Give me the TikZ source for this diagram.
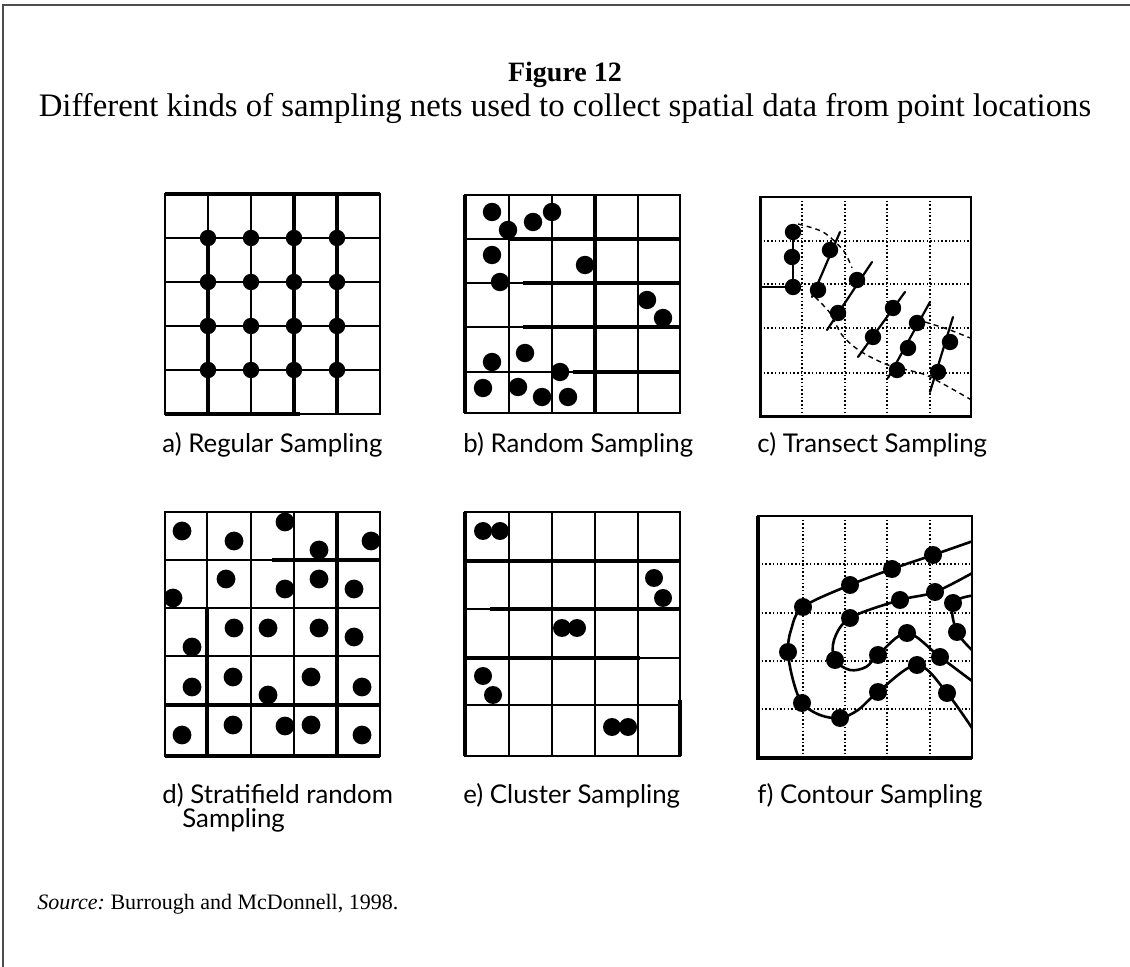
\documentclass[tikz,border=0pt]{standalone}
\usepackage{fontspec}
\setmainfont{Liberation Serif}
\newfontfamily\labfont{Lato}
\begin{document}
\begin{tikzpicture}[x=0.5pt,y=-0.5pt,
  gline/.style={line width=0.8pt},
  tline/.style={line width=1.6pt},
  dgrid/.style={line width=0.75pt, dash pattern=on 0.75pt off 1.1pt},
  lab/.style={font=\labfont\fontsize{12.9}{14}\selectfont, anchor=base west, inner sep=0pt},
  cline/.style={line width=1.1pt, line join=round, line cap=round},
  tcurve/.style={line width=0.7pt, dash pattern=on 2.5pt off 2pt},
]
\useasboundingbox (0,0) rectangle (1130,967);
\draw[line width=1.3pt, black!70] (3,967) -- (3,5) -- (1130,5);

% titles
\node[font=\bfseries\fontsize{14}{16}\selectfont, anchor=base, inner sep=0pt] (title) at (565,82) {Figure 12};
\node[font=\fontsize{16.4}{19}\selectfont, anchor=base, inner sep=0pt] (subtitle) at (565,117) {Different kinds of sampling nets used to collect spatial data from point locations};

% ---------- a) regular
\draw[gline] (165,194) rectangle (380,414);
\foreach \x in {208,251,294,337} \draw[gline] (\x,194) -- (\x,414);
\foreach \y in {238,282,326,370} \draw[gline] (165,\y) -- (380,\y);
\draw[tline] (294,194) -- (294,414) (337,194) -- (337,414) (208,238) -- (208,414) (165,414) -- (300,414) (165,194) -- (380,194);
\foreach \x in {208,251,294,337}{\foreach \y in {238,282,326,370}{\fill (\x,\y) circle[radius=4.1pt];}}

% ---------- b) random
\draw[gline] (465,195) rectangle (680,413);
\foreach \x in {509,552,595,638} \draw[gline] (\x,195) -- (\x,413);
\foreach \y in {239,283,327,372} \draw[gline] (465,\y) -- (680,\y);
\draw[tline] (595,195) -- (595,413) (509,239) -- (680,239) (523,283) -- (680,283) (523,327) -- (680,327) (573,372) -- (680,372) (465,195) -- (465,413);
\foreach \p in {(492,212),(508,230),(533,222),(552,212),(492,255),(500,282),(585,265),(647,300),(663,318),(492,362),(525,353),(560,372),(483,388),(518,387),(542,397),(568,397)}
  {\fill \p circle[radius=4.6pt];}

% ---------- c) transect
\foreach \x in {802,845,887,930} \draw[dgrid] (\x,197) -- (\x,417);
\foreach \y in {241,284,328,373} \draw[dgrid] (760,\y) -- (971,\y);
\draw[gline] (760,197) rectangle (971,417);
\draw[line width=1.5pt] (760,197) -- (760,417) -- (971,417);
\begin{scope}
\clip (760,197) rectangle (971,417);
\draw[tcurve] plot[smooth] coordinates {(798,224) (823,232) (843,250) (852,268)};
\draw[tcurve] plot[smooth] coordinates {(815,297) (830,313) (842,335) (860,351) (888,365) (923,374) (945,385) (975,402)};
\draw[tcurve] plot[smooth] coordinates {(925,322) (950,330) (975,340)};
\end{scope}
\draw[cline] (760,287) -- (793,287) -- (793,232);
\draw[cline] (840,232) -- (812,297);
\draw[cline] (872,262) -- (827,330);
\draw[cline] (905,292) -- (858,357);
\draw[cline] (930,302) -- (888,378);
\draw[cline] (953,317) -- (930,392);
\foreach \p in {(793,232),(792,257),(793,287),(830,250),(818,290),(857,280),(838,313),(893,308),(873,337),(917,323),(908,348),(897,370),(950,342),(938,372)}
  {\fill \p circle[radius=4.1pt];}

% ---------- d) stratified random
\draw[gline] (165,512) rectangle (380,756);
\foreach \x in {207,251,294,337} \draw[gline] (\x,512) -- (\x,756);
\foreach \y in {560,608,656,705} \draw[gline] (165,\y) -- (380,\y);
\draw[tline] (337,512) -- (337,756) (207,608) -- (207,756) (272,560) -- (380,560) (165,705) -- (380,705) (165,756) -- (380,756);
\begin{scope}
\clip (165,512) rectangle (380,756);
\foreach \p in {(182,531),(234,541),(285,522),(319,550),(371,541),
  (173,598),(226,579),(285,589),(319,579),(354,589),
  (192,647),(234,628),(268,628),(319,628),(354,637),
  (192,687),(233,677),(268,695),(311,677),(362,687),
  (182,735),(233,725),(285,726),(311,725),(362,735)}
  {\fill \p circle[radius=4.7pt];}
\end{scope}

% ---------- e) cluster
\draw[gline] (465,512) rectangle (680,756);
\foreach \x in {509,552,595,638} \draw[gline] (\x,512) -- (\x,756);
\foreach \y in {561,609,658,705} \draw[gline] (465,\y) -- (680,\y);
\draw[tline] (465,561) -- (680,561) (490,609) -- (680,609) (465,658) -- (640,658) (465,512) -- (465,756) (680,700) -- (680,756);
\begin{scope}
\clip (465,512) rectangle (680,756);
\foreach \p in {(483,531),(500,531),(654,578),(663,598),(562,628),(577,628),(483,676),(493,695),(612,727),(628,727)}
  {\fill \p circle[radius=4.5pt];}
\end{scope}

% ---------- f) contour
\foreach \x in {803,845,887,930} \draw[dgrid] (\x,516) -- (\x,758);
\foreach \y in {564,613,661,709} \draw[dgrid] (758,\y) -- (972,\y);
\draw[gline] (758,516) rectangle (972,758);
\draw[line width=1.6pt] (758,516) -- (758,758) -- (972,758);
\begin{scope}
\clip (758,516) rectangle (972,758);
\draw[cline, line width=1.3pt] plot[smooth, tension=0.55] coordinates {(976,540) (933,555) (892,569) (850,585) (803,607) (791,630) (788,652) (793,680) (802,703) (820,715) (840,718) (858,710) (878,692) (917,665) (947,693) (976,734)};
\draw[cline, line width=1.3pt] plot[smooth, tension=0.55] coordinates {(976,571) (935,592) (900,600) (850,618) (834,640) (835,660) (850,670) (866,667) (878,655) (907,633) (940,657) (976,684)};
\draw[cline, line width=1.3pt] plot[smooth, tension=0.55] coordinates {(976,595) (953,603) (957,632) (976,654)};
\end{scope}
\foreach \p in {(933,555),(892,569),(850,585),(803,607),(788,652),(802,703),(840,718),(878,692),(917,665),(947,693),
  (935,592),(900,600),(850,618),(835,660),(878,655),(907,633),(940,657),(953,603),(957,632)}
  {\fill \p circle[radius=4.5pt];}

% labels
\node[lab] (la) at (162,453) {a) Regular Sampling};
\node[lab] (lb) at (463,453) {b) Random Sampling};
\node[lab] (lc) at (757,453) {c) Transect Sampling};
\node[lab] (ld) at (162,803) {d) Stratifield random};
\node[lab] (ld2) at (182,827) {Sampling};
\node[lab] (le) at (463,803) {e) Cluster Sampling};
\node[lab] (lf) at (757,803) {f) Contour Sampling};

\node[font=\fontsize{11}{13}\selectfont, anchor=base west, inner sep=0pt] (src) at (37,909) {\textit{Source:}\ Burrough and McDonnell, 1998.};
\end{tikzpicture}
\end{document}
